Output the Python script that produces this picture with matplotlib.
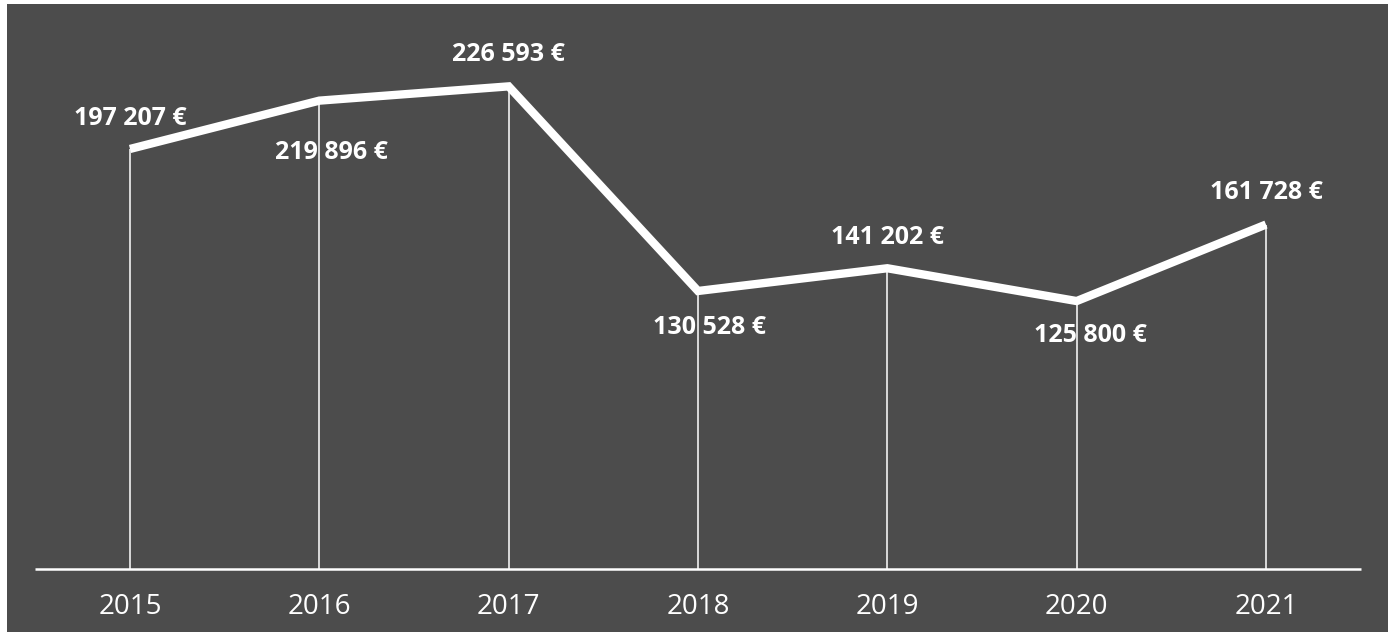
import matplotlib
matplotlib.use("Agg")
import matplotlib.pyplot as plt
import numpy as np

# Data
years = ["2015", "2016", "2017", "2018", "2019", "2020", "2021"]
values = [197207, 219896, 226593, 130528, 141202, 125800, 161728]
labels = ["197 207 €", "219 896 €", "226 593 €", "130 528 €", "141 202 €", "125 800 €", "161 728 €"]

# label placement: (dx, dy) in points relative to each point
label_offsets = [(0, 22), (9, -37), (0, 23), (8, -26), (0, 22), (10, -25), (0, 23)]

BG = "#4c4c4c"
FG = "white"

plt.rcParams["font.family"] = ["Open Sans", "DejaVu Sans"]

fig = plt.figure(figsize=(13.96, 6.36), dpi=100, facecolor="white")
W, H = 1396, 636
ax = fig.add_axes([7 / W, 4 / H, (1388 - 7) / W, (632 - 4) / H])
ax.set_facecolor(BG)

x = np.arange(len(years))
ax.plot(x, values, color=FG, linewidth=6, solid_joinstyle="miter",
        solid_capstyle="butt", zorder=3)
ax.vlines(x, 0, values, color=FG, linewidth=1.1, zorder=2)
ax.hlines(0, -0.5, 6.5, color=FG, linewidth=1.8, zorder=2)

for xi, v, lab, (dx, dy) in zip(x, values, labels, label_offsets):
    ax.annotate(lab, (xi, v), xytext=(dx, dy), textcoords="offset points",
                ha="center", va="center", color=FG, fontsize=18,
                fontweight="bold", zorder=4)

for xi, yr in zip(x, years):
    ax.annotate(yr, (xi, 0), xytext=(0, -27), textcoords="offset points",
                ha="center", va="center", color=FG, fontsize=20)

# pixel scale: 0 sits at baseline, ~469.5 € per pixel
px = 469.5
ax.set_ylim(-(632 - 569) * px, (569 - 4) * px)
step = 189.33
ax.set_xlim((7 - 130) / step, (1388 - 130) / step)
ax.set_xticks([])
ax.set_yticks([])
for s in ax.spines.values():
    s.set_visible(False)

fig.savefig("out.png", dpi=100, facecolor="white")
plt.close(fig)
